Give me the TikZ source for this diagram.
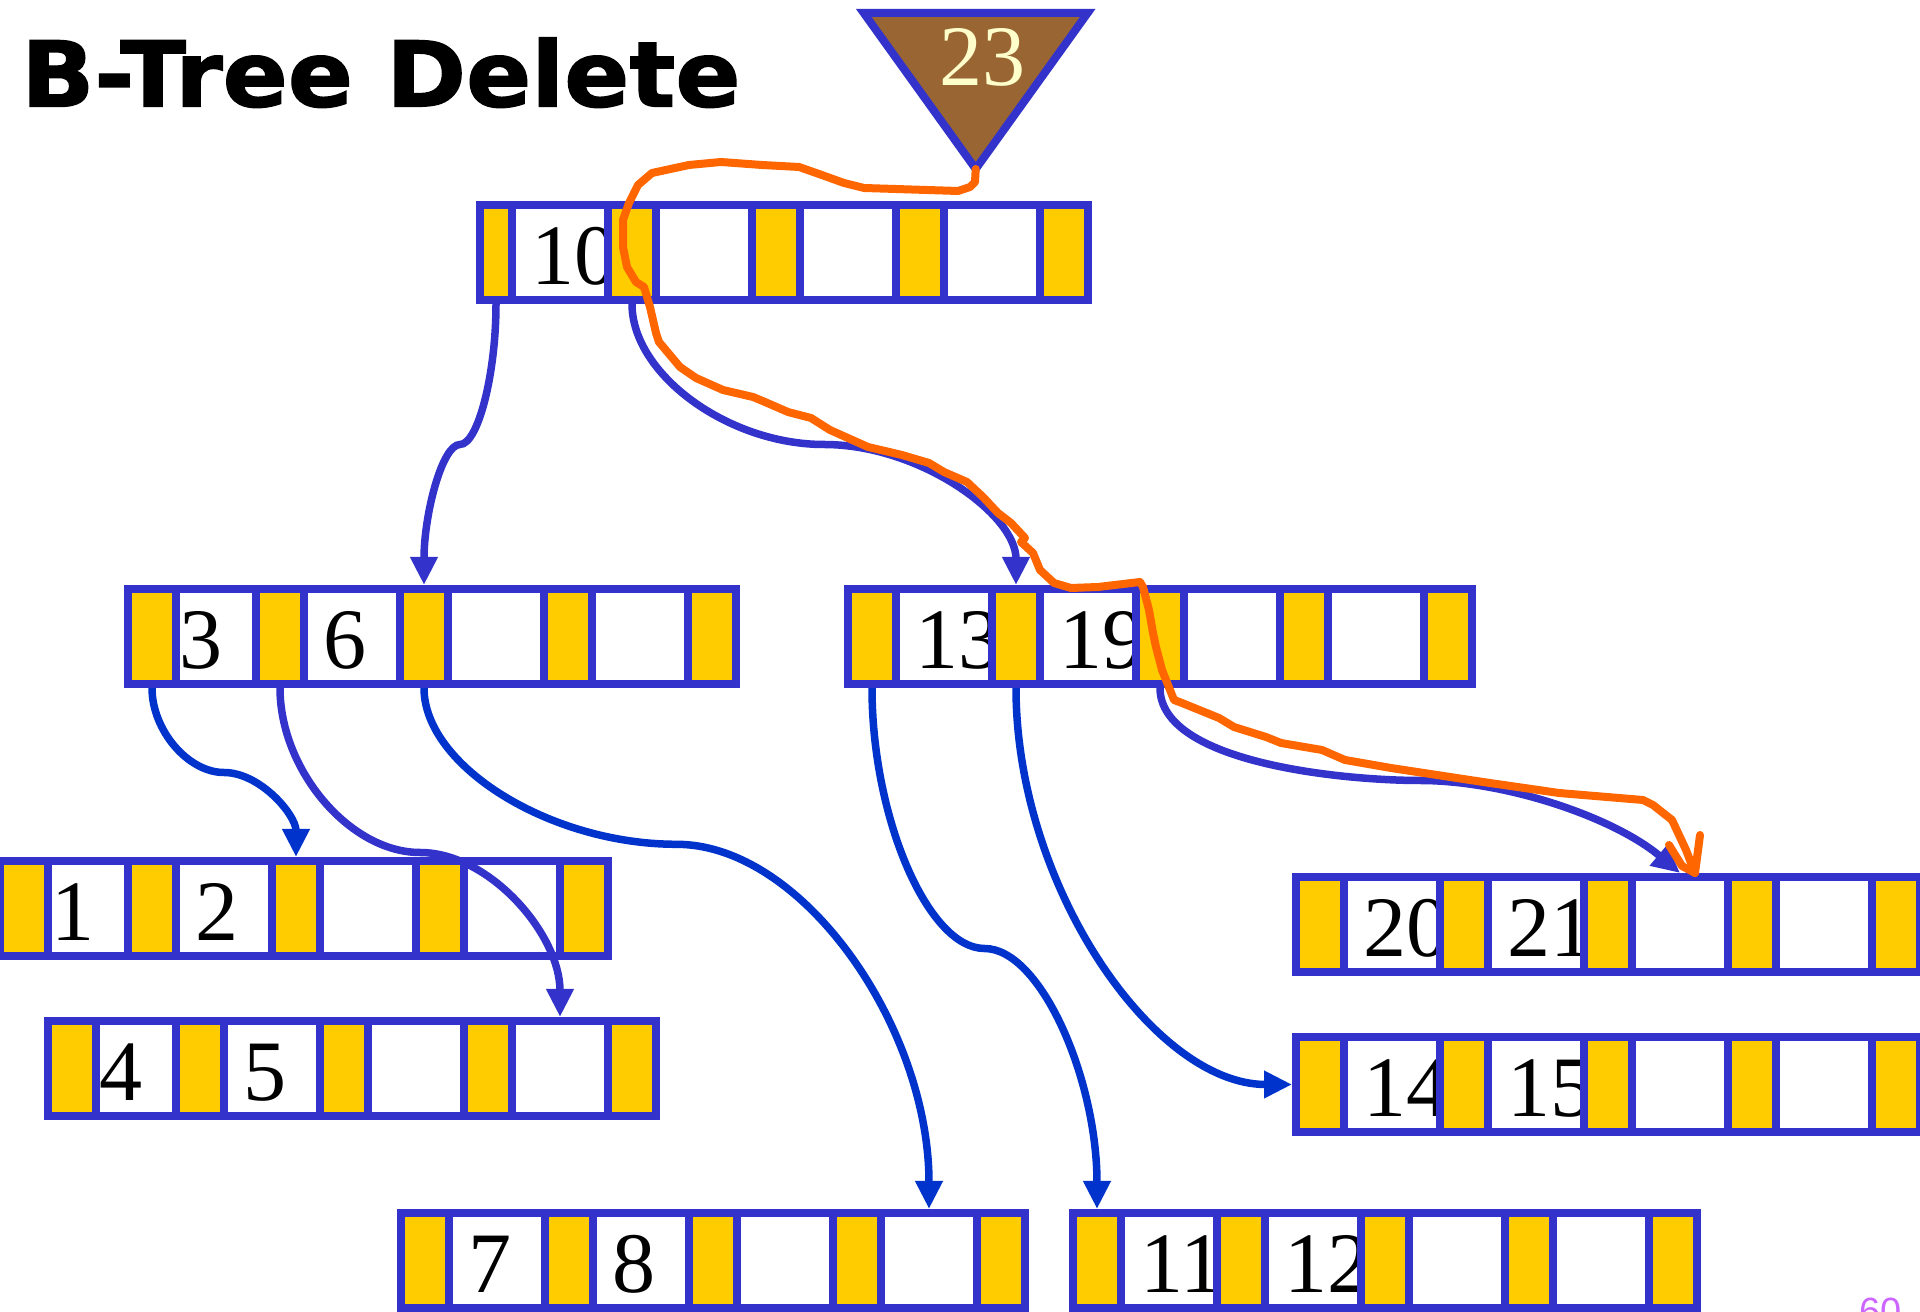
\documentclass[tikz,border=0pt]{standalone}
\usepackage{fontspec}
\setmainfont{Liberation Serif}
\newfontfamily\titlefont{DejaVu Sans}[BoldFeatures={FakeBold=1.5,FakeStretch=1.06}]
\newfontfamily\pagefont{Liberation Sans}
\usetikzlibrary{arrows.meta,calc}

\definecolor{boxblue}{HTML}{3333CC}
\definecolor{ptrblue}{HTML}{0033CC}
\definecolor{cellyellow}{HTML}{FFCC00}
\definecolor{traceorange}{HTML}{FF6600}
\definecolor{trifill}{HTML}{996633}
\definecolor{keycream}{HTML}{FFFFCC}
\definecolor{pagepurple}{HTML}{CC66FF}

% B-tree node: #1 name, #2 #3 top left corner, #4 first pointer width,
% #5 first key width, #6 #7 keys
\newcommand{\btnode}[7]{%
  \begin{scope}[shift={(#2,#3)}]
    \pgfmathsetmacro\btA{#4}
    \pgfmathsetmacro\btB{#4+#5}
    \pgfmathsetmacro\btC{\btB+4.8}
    \pgfmathsetmacro\btD{\btC+9.6}
    \pgfmathsetmacro\btE{\btD+4.8}
    \pgfmathsetmacro\btF{\btE+9.6}
    \pgfmathsetmacro\btG{\btF+4.8}
    \pgfmathsetmacro\btH{\btG+9.6}
    \pgfmathsetmacro\btW{\btH+4.8}
    \fill[white] (0,0) rectangle (\btW,9.5);
    \node[keytext] (#1-key1) at (\btB-7.75,8) {#6};
    \node[keytext] (#1-key2) at (\btD-7.75,8) {#7};
    \fill[cellyellow] (0,0) rectangle (\btA,9.5)
      (\btB,0) rectangle (\btC,9.5) (\btD,0) rectangle (\btE,9.5)
      (\btF,0) rectangle (\btG,9.5) (\btH,0) rectangle (\btW,9.5);
    \draw[cellbox] (0,0) rectangle (\btW,9.5);
    \foreach \x in {\btA,\btB,\btC,\btD,\btE,\btF,\btG,\btH}
      \draw[cellbox] (\x,0) -- (\x,9.5);
    % pointer cells: bottom and top
    \coordinate (#1-p0) at ({\btA/2},9.9);
    \coordinate (#1-p1) at ({(\btB+\btC)/2},9.9);
    \coordinate (#1-p2) at ({(\btD+\btE)/2},9.9);
    \coordinate (#1-t0) at ({\btA/2},-0.4);
    \coordinate (#1-t1) at ({(\btB+\btC)/2},-0.4);
    \coordinate (#1-t2) at ({(\btD+\btE)/2},-0.4);
    % key cells: top
    \coordinate (#1-k3) at ({(\btE+\btF)/2},-0.4);
    \coordinate (#1-k4) at ({(\btG+\btH)/2},-0.4);
    \coordinate (#1-w) at (-0.4,4.75);
  \end{scope}}

\begin{document}
\begin{tikzpicture}[x=1mm, y=-1mm,
    cellbox/.style={draw=boxblue, line width=0.82mm},
    keytext/.style={font=\fontsize{24.5pt}{28pt}\selectfont, inner sep=0pt, anchor=base west},
    ptr/.style={draw=boxblue, line width=0.75mm, -{Triangle[length=2.8mm, width=2.6mm]}},
    ptrdark/.style={ptr, draw=ptrblue},
    trace/.style={draw=traceorange, line width=0.8mm, line cap=round, line join=round},
    % curved connector, down - across - down
    elbowcurve/.style={to path={let \p1=(\tikztostart), \p2=(\tikztotarget),
        \p3=({(\x1+\x2)/2},{\y1+#1*(\y2-\y1)}) in
        .. controls (\x1,{(\y1+\y3)/2}) and ({(3*\x1+\x2)/4},\y3) .. (\p3)
        .. controls ({(\x1+3*\x2)/4},\y3) and (\x2,{(\y3+\y2)/2}) .. (\p2) \tikztonodes}},
    elbowcurve/.default=0.5,
    % curved connector, down then across
    downacross/.style={to path={let \p1=(\tikztostart), \p2=(\tikztotarget) in
        .. controls (\x1,{(\y1+\y2)/2}) and ({(\x1+\x2)/2},\y2) .. (\p2) \tikztonodes}}
]
\useasboundingbox (0,0) rectangle (192,131.2);
\clip (0,0) rectangle (192,131.2);

% Title
\node[font=\titlefont\bfseries\fontsize{25.8pt}{30pt}\selectfont, anchor=base west, inner sep=0pt]
    (title) at (2.05,10.65) {B-Tree Delete};

% Nodes
\btnode{root}{48.0}{20.5}{3.2}{9.6}{10}{}
\btnode{node36}{12.8}{58.9}{4.8}{8.0}{3}{6}
\btnode{node1319}{84.8}{58.9}{4.8}{9.6}{13}{19}
\btnode{node12}{0.0}{86.1}{4.8}{8.0}{1}{2}
\btnode{node45}{4.8}{102.1}{4.8}{8.0}{4}{5}
\btnode{node78}{40.1}{121.3}{4.8}{9.6}{7}{8}
\btnode{node1112}{107.3}{121.3}{4.8}{9.6}{11}{12}
\btnode{node2021}{129.6}{87.7}{4.8}{9.6}{20}{21}
\btnode{node1415}{129.6}{103.7}{4.8}{9.6}{14}{15}

% Pointers
\draw[ptr] (root-p0) to[elbowcurve] (node36-t2);
\draw[ptr] (root-p1) to[elbowcurve] (node1319-t1);
\draw[ptrdark] (node36-p0) to[elbowcurve] (node12-t2);
\draw[ptr] (node36-p1) to[elbowcurve] (node45-k4);
\draw[ptrdark] (node36-p2) to[elbowcurve=0.3] (node78-k4);
\draw[ptrdark] (node1319-p0) to[elbowcurve] (node1112-t0);
\draw[ptrdark] (node1319-p1) to[downacross] (node1415-w);
\draw[ptr] (node1319-p2) to[out=-90,in=180,looseness=0.7] ($(node1319-p2)!0.5!(node2021-k3)$)
    to[out=0,in=140,looseness=0.8] (node2021-k3);

% Key to delete
\coordinate (triL) at (86.36,1.28);
\coordinate (triR) at (108.78,1.28);
\coordinate (apex) at (97.57,16.9);
\draw[draw=boxblue, fill=trifill, line width=0.8mm] (triL) -- (triR) -- (apex) -- cycle;
\node[keytext, text=keycream] (searchKey) at (93.84,8.6) {23};

% Search trace
\coordinate (hitPoint) at (169.5,87.3);
\draw[trace] (apex) -- (97.5,18.2) -- (97.0,18.7) -- (95.8,19.1) -- (86.4,18.8)
  -- (84.4,18.3) -- (81.9,17.4) -- (79.9,16.7) -- (76.2,16.5) -- (72.1,16.2)
  -- (68.9,16.5) -- (65.2,17.3) -- (63.8,18.5) -- (62.9,20.3) -- (62.3,22.0)
  -- (62.3,24.7) -- (62.7,26.7) -- (63.6,28.2) -- (64.4,28.7) -- (65.0,30.7)
  -- (65.6,33.3) -- (65.9,34.2) -- (68.0,36.7) -- (69.6,37.8) -- (72.3,39.0)
  -- (75.3,39.7) -- (76.5,40.2) -- (78.8,41.2) -- (81.1,41.8) -- (83.0,43.0)
  -- (86.8,44.7) -- (90.2,45.5) -- (92.9,46.3) -- (94.4,47.2) -- (96.7,48.2)
  -- (98.3,49.7) -- (99.8,51.3) -- (101.1,52.3) -- (102.5,53.8) -- (102.1,54.2)
  -- (103.3,55.3) -- (104.0,57.0) -- (105.4,58.3) -- (107.1,58.8) -- (109.8,58.7)
  -- (114.0,58.2) -- (114.3,58.7) -- (114.9,61.0) -- (115.3,63.3) -- (115.6,64.7)
  -- (116.2,67.0) -- (117.4,70.0) -- (118.2,70.3) -- (121.9,71.8) -- (123.4,72.7)
  -- (126.6,73.7) -- (128.1,74.3) -- (132.2,75.0) -- (134.5,76.0) -- (139.1,76.8)
  -- (148.3,78.2) -- (155.9,79.3) -- (164.3,80.0) -- (165.3,80.5) -- (167.2,82.0)
  -- (168.6,85.0) -- (hitPoint);
\draw[trace] (166.9,84.5) -- (168.2,86.6) -- (hitPoint);
\draw[trace] (170.0,83.5) -- (hitPoint);

% Slide number
\node[font=\pagefont\fontsize{10.8pt}{12pt}\selectfont, text=pagepurple, anchor=base west, inner sep=0pt]
    (pageNum) at (185.85,132.4) {60};
\end{tikzpicture}
\end{document}
